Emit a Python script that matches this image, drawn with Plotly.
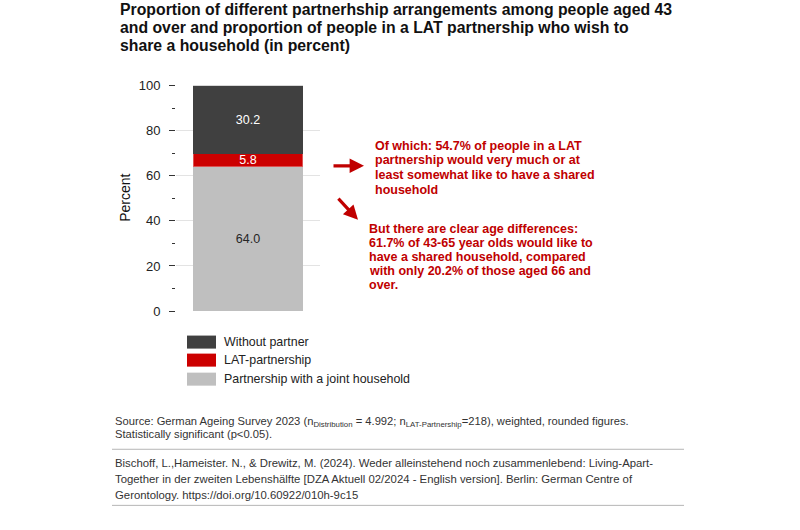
import plotly.graph_objects as go

W, H = 800, 530

# ---- data ----
categories = ["Distribution"]
series_names = ["Partnership with a joint household", "LAT-partnership", "Without partner"]
series_values = [64.0, 5.8, 30.2]
series_colors = ["#BFBFBF", "#CC0000", "#404040"]
label_colors = ["#262626", "#FFFFFF", "#FFFFFF"]
y_ticks = [0, 20, 40, 60, 80, 100]

title_lines = [
    "Proportion of different partnerhship arrangements among people aged 43",
    "and over and proportion of people in a LAT partnership who wish to",
    "share a household (in percent)",
]
note1_lines = [
    "Of which: 54.7% of people in a LAT",
    "partnership would very much or at",
    "least somewhat like to have a shared",
    "household",
]
note2_lines = [
    "But there are clear age differences:",
    "61.7% of 43-65 year olds would like to",
    "have a shared household, compared",
    "with only 20.2% of those aged 66 and",
    "over.",
]
source_lines = [
    "Source: German Ageing Survey 2023 (n<sub>Distribution</sub> = 4.992; n<sub>LAT-Partnership</sub>=218), weighted, rounded figures.",
    "Statistically significant (p<0.05).",
]
citation_lines = [
    "Bischoff, L.,Hameister. N., & Drewitz, M. (2024). Weder alleinstehend noch zusammenlebend: Living-Apart-",
    "Together in der zweiten Lebenshälfte [DZA Aktuell 02/2024 - English version]. Berlin: German Centre of",
    "Gerontology. https://doi.org/10.60922/010h-9c15",
]

# vertical calibration of the photographed page (observed offset / scale)
V_OFF, V_SCALE = 6.5, 0.970


def px(x):
    return x / W


def py(y):
    return 1 - ((y - V_OFF) / V_SCALE) / H


FONT = "Liberation Sans, Arial, sans-serif"

fig = go.Figure()
for name, val, col, lcol in zip(series_names, series_values, series_colors, label_colors):
    fig.add_trace(go.Bar(
        x=categories, y=[val], name=name,
        marker=dict(color=col, line=dict(color="#E06666" if col == "#CC0000" else col, width=0.8)),
        width=0.76,
        text=[f"{val:.1f}"], textposition="inside", insidetextanchor="middle",
        textfont=dict(color=lcol, size=12.5, family=FONT),
        showlegend=False, hoverinfo="skip",
    ))

annotations = []
shapes = []


def left_text(t, x, y, size, color):
    annotations.append(dict(text=t, x=px(x - 2.5), y=py(y), xref="paper", yref="paper",
                            xanchor="left", yanchor="middle", showarrow=False,
                            font=dict(size=size, color=color, family=FONT)))


# title
for i, t in enumerate(title_lines):
    left_text(f"<b>{t}</b>", 120, 9 + i * 18, 15.8, "#111111")

# y-axis title
annotations.append(dict(text="Percent", x=px(125), y=py(197), xref="paper", yref="paper",
                        textangle=-90, showarrow=False, xanchor="center", yanchor="middle",
                        font=dict(size=14, color="#111111", family=FONT)))

# red notes
for i, t in enumerate(note1_lines):
    left_text(f"<b>{t}</b>", 375, 145 + i * 14.7, 12.5, "#C00000")
for i, t in enumerate(note2_lines):
    left_text(f"<b>{t}</b>", 369, 228 + i * 14, 12.5, "#C00000")

# arrows
for (x0, y0, x1, y1) in [(332, 165, 364, 165), (337, 197, 358, 219)]:
    annotations.append(dict(x=px(x1), y=py(y1), ax=x0 - x1, ay=(y0 - y1) / V_SCALE,
                            xref="paper", yref="paper",
                            axref="pixel", ayref="pixel", text="", showarrow=True,
                            arrowhead=2, arrowsize=0.9, arrowwidth=3.2, arrowcolor="#C00000"))

# legend (top to bottom: reverse stacking)
leg_y = [341, 359, 378]
for i, (name, col) in enumerate(zip(series_names[::-1], series_colors[::-1])):
    yc = leg_y[i]
    shapes.append(dict(type="rect", xref="paper", yref="paper", x0=px(187), x1=px(216),
                       y0=py(yc - 6.5), y1=py(yc + 6.5), fillcolor=col, line=dict(width=0)))
    left_text(name, 224, yc, 12.4, "#222222")

# source
for i, t in enumerate(source_lines):
    left_text(t, 115, 421 + i * 12, 11.2, "#333333")
for i, t in enumerate(citation_lines):
    left_text(t, 115, 462 + i * 15.7, 11.35, "#333333")
for yl in [448, 504]:
    shapes.append(dict(type="line", xref="paper", yref="paper", x0=px(112), x1=px(684),
                       y0=py(yl), y1=py(yl), line=dict(color="#B5B5B5", width=1)))

fig.update_layout(
    width=W, height=H, margin=dict(l=0, r=0, t=0, b=0),
    paper_bgcolor="white", plot_bgcolor="white",
    barmode="stack", bargap=0,
    annotations=annotations, shapes=shapes,
    uniformtext=dict(minsize=12, mode="show"),
    hovermode=False,
    xaxis=dict(domain=[px(176), px(320)], range=[-0.5, 0.5], showticklabels=False,
               showgrid=False, zeroline=False, showline=False, ticks=""),
    yaxis=dict(domain=[py(310), py(85)], range=[0, 100], tickvals=y_ticks,
               ticks="outside", ticklen=6, tickwidth=1, tickcolor="#333333",
               ticklabelstandoff=6,
               minor=dict(dtick=10, ticks="outside", ticklen=3, tickcolor="#333333", showgrid=False),
               showgrid=True, gridcolor="#E3E3E3", gridwidth=1, zeroline=False, showline=False,
               tickfont=dict(size=13, color="#222222", family=FONT)),
    font=dict(family=FONT),
)

post = (
    "var s=document.createElement('style');"
    "s.textContent='html,body{margin:0!important;padding:0!important;overflow:hidden!important;}';"
    "document.head.appendChild(s);"
    "var g=document.getElementById('{plot_id}');"
    "g.style.position='fixed';g.style.top='0px';g.style.left='0px';"
)
fig.write_html("out.html", config={"displayModeBar": False, "staticPlot": True}, post_script=post)
